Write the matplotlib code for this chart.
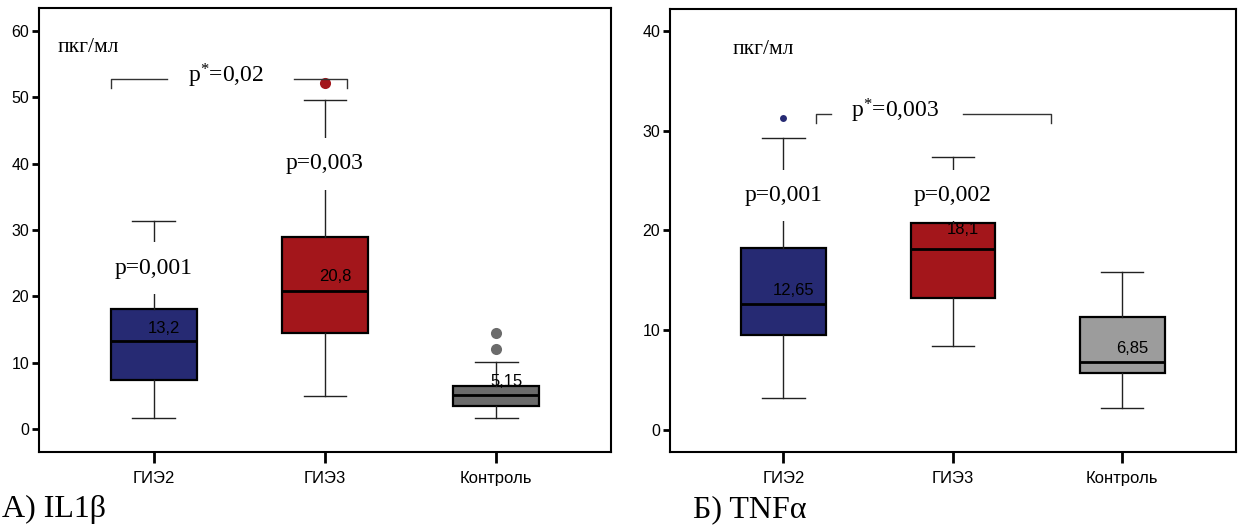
import matplotlib
matplotlib.use("Agg")
import matplotlib.pyplot as plt

plt.rcParams["font.family"] = ["Liberation Sans", "DejaVu Sans"]
plt.rcParams["mathtext.fontset"] = "custom"
plt.rcParams["mathtext.rm"] = "Liberation Serif"
plt.rcParams["mathtext.it"] = "Liberation Serif"

SERIF = ["Liberation Serif", "DejaVu Serif"]

groups = ["ГИЭ2", "ГИЭ3", "Контроль"]

# IL1b (pg/ml)
il1b_whislo = [1.7, 5.0, 1.7]
il1b_q1 = [7.3, 14.4, 3.5]
il1b_med = [13.2, 20.8, 5.15]
il1b_q3 = [18.1, 28.9, 6.5]
il1b_whishi = [31.4, 49.6, 10.1]
il1b_fliers = [[], [52.2], [12.1, 14.5]]
il1b_med_labels = ["13,2", "20,8", "5,15"]
il1b_p = ["p=0,001", "p=0,003", None]
il1b_p_y = [24.25, 40.0, None]

# TNFa (pg/ml)
tnf_whislo = [3.2, 8.4, 2.2]
tnf_q1 = [9.5, 13.2, 5.7]
tnf_med = [12.65, 18.1, 6.85]
tnf_q3 = [18.2, 20.7, 11.3]
tnf_whishi = [29.3, 27.4, 15.8]
tnf_fliers = [[31.3], [], []]
tnf_med_labels = ["12,65", "18,1", "6,85"]
tnf_p = ["p=0,001", "p=0,002", None]
tnf_p_y = [23.5, 23.5, None]

navy = "#262a73"
red = "#a3161b"


def draw_panel(ax, whislo, q1, med, q3, whishi, fliers, med_labels, p_txt, p_y,
               colors, flier_sizes, label_off, ylim, yticks):
    stats = []
    for i in range(len(groups)):
        stats.append({"whislo": whislo[i], "q1": q1[i], "med": med[i], "q3": q3[i],
                      "whishi": whishi[i], "fliers": fliers[i], "label": groups[i]})
    pos = [1, 2, 3]
    bp = ax.bxp(stats, positions=pos, widths=0.5, patch_artist=True, showfliers=True,
                boxprops=dict(linewidth=1.6, edgecolor="black"),
                medianprops=dict(color="black", linewidth=2),
                whiskerprops=dict(color="#222222", linewidth=1),
                capprops=dict(color="#222222", linewidth=1),
                capwidths=0.25,
                flierprops=dict(marker="o", markeredgecolor="none", linestyle="none"))
    for patch, c in zip(bp["boxes"], colors):
        patch.set_facecolor(c)
    for fl, c, s in zip(bp["fliers"], colors, flier_sizes):
        fl.set_markerfacecolor(c)
        fl.set_markersize(s)

    # p text sits on a white patch that hides the whisker behind it
    for x, t, y in zip(pos, p_txt, p_y):
        if t is None:
            continue
        ax.text(x, y, t, ha="center", va="center", fontsize=17, family=SERIF,
                bbox=dict(facecolor="white", edgecolor="none", pad=11), zorder=6)

    for x, m, lab, off in zip(pos, med, med_labels, label_off):
        ax.annotate(lab, (x + 0.06, m), xytext=(0, off), textcoords="offset points",
                    ha="center", va="bottom", fontsize=12, color="black", zorder=8)

    ax.set_xlim(0.33, 3.67)
    ax.set_ylim(*ylim)
    ax.set_yticks(yticks)
    ax.set_xticks(pos)
    ax.set_xticklabels(groups, fontsize=12)
    ax.tick_params(axis="y", direction="out", length=5, width=2, labelsize=11.5, pad=2)
    ax.tick_params(axis="x", direction="out", length=8, width=2, labelsize=12, pad=6)
    for sp in ax.spines.values():
        sp.set_linewidth(1.5)


fig = plt.figure(figsize=(12.38, 5.25), dpi=100)
ax1 = fig.add_axes([0.0315, 0.139, 0.462, 0.846])
ax2 = fig.add_axes([0.5412, 0.139, 0.457, 0.844])

draw_panel(ax1, il1b_whislo, il1b_q1, il1b_med, il1b_q3, il1b_whishi, il1b_fliers,
           il1b_med_labels, il1b_p, il1b_p_y,
           [navy, red, "#6b6b6b"], [5, 8, 8], [4, 5, 4],
           (-3.5, 63.5), range(0, 61, 10))
draw_panel(ax2, tnf_whislo, tnf_q1, tnf_med, tnf_q3, tnf_whishi, tnf_fliers,
           tnf_med_labels, tnf_p, tnf_p_y,
           [navy, red, "#9c9c9c"], [5, 8, 8], [4, 9, 4],
           (-2.2, 42.2), range(0, 41, 10))

# units
ax1.text(0.44, 57.5, "пкг/мл", fontsize=15.5, family=SERIF, va="center")
ax2.text(0.70, 38.1, "пкг/мл", fontsize=15.5, family=SERIF, va="center")

# brackets with between-group p
ax1.plot([0.75, 0.75, 1.08], [51.4, 52.8, 52.8], color="#333333", lw=1)
ax1.plot([1.82, 2.13, 2.13], [52.8, 52.8, 51.4], color="#333333", lw=1)
ax1.text(1.42, 53.3, "p$^{*}$=0,02", ha="center", va="center", fontsize=17, family=SERIF)

ax2.plot([1.19, 1.19, 1.28], [30.8, 31.7, 31.7], color="#333333", lw=1)
ax2.plot([2.06, 2.58, 2.58], [31.7, 31.7, 30.8], color="#333333", lw=1)
ax2.text(1.66, 32.0, "p$^{*}$=0,003", ha="center", va="center", fontsize=17, family=SERIF)

fig.text(0.002, 0.015, "А) IL1β", fontsize=23, family=SERIF, va="baseline")
fig.text(0.56, 0.015, "Б) TNFα", fontsize=23, family=SERIF, va="baseline")

fig.savefig("out.png", dpi=100)
